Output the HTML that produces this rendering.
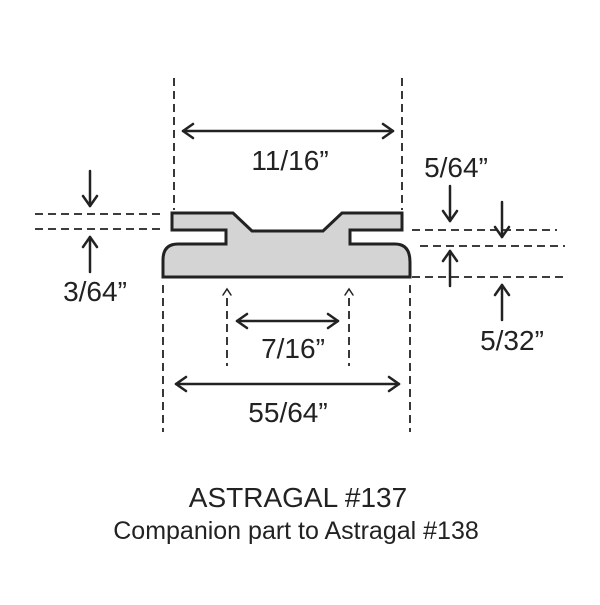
<!DOCTYPE html>
<html><head><style>body{margin:0;background:#fff}</style></head><body>
<svg width="600" height="600" viewBox="0 0 600 600" xmlns="http://www.w3.org/2000/svg" font-family="Liberation Sans, sans-serif" fill="none" stroke="#222">
<g stroke-width="1.8" stroke-dasharray="8,5">
<line x1="174" y1="78" x2="174" y2="210"/><line x1="402" y1="78" x2="402" y2="210"/>
<line x1="163" y1="285" x2="163" y2="432"/><line x1="410" y1="285" x2="410" y2="432"/>
<line x1="227" y1="298" x2="227" y2="366"/><line x1="349" y1="298" x2="349" y2="366"/>
<line x1="35" y1="214" x2="165" y2="214"/><line x1="35" y1="229" x2="165" y2="229"/>
<line x1="412" y1="230" x2="557" y2="230"/><line x1="420" y1="246" x2="565" y2="246"/>
<line x1="412" y1="277" x2="565" y2="277"/>
</g>
<path d="M172 213 L233 213 L252 231 L323 231 L342 213 L402 213 L402 230 L350 230 L350 244 L395 244 Q410 244 410 262 L410 277 L163 277 L163 260 Q163 244 178 244 L226 244 L226 230 L172 230 Z" fill="#d4d4d4" stroke="#222" stroke-width="3" stroke-linejoin="miter"/>
<g stroke-width="2.5" stroke-linecap="round" stroke-linejoin="round">
<line x1="183" y1="131" x2="393" y2="131"/><path d="M193 124 L183 131 L193 138 M383 124 L393 131 L383 138"/>
<line x1="237" y1="321" x2="338" y2="321"/><path d="M247 314 L237 321 L247 328 M328 314 L338 321 L328 328"/>
<line x1="176" y1="384" x2="399" y2="384"/><path d="M186 377 L176 384 L186 391 M389 377 L399 384 L389 391"/>
<line x1="90" y1="171" x2="90" y2="206"/><path d="M83 196 L90 206 L97 196"/>
<line x1="90" y1="272" x2="90" y2="237"/><path d="M83 247 L90 237 L97 247"/>
<line x1="450" y1="186" x2="450" y2="221"/><path d="M443 211 L450 221 L457 211"/>
<line x1="450" y1="286" x2="450" y2="251"/><path d="M443 261 L450 251 L457 261"/>
<line x1="502" y1="202" x2="502" y2="237"/><path d="M495 227 L502 237 L509 227"/>
<line x1="502" y1="320" x2="502" y2="285"/><path d="M495 295 L502 285 L509 295"/>
</g>
<g stroke-width="1.5" stroke-linecap="round"><path d="M223 295 L227 289 L231 295 M345 295 L349 289 L353 295"/></g>
<g fill="#222" stroke="none" font-size="28" text-anchor="middle">
<text x="290" y="170">11/16”</text>
<text x="293" y="358">7/16”</text>
<text x="288" y="422">55/64”</text>
<text x="95" y="301">3/64”</text>
<text x="456" y="177">5/64”</text>
<text x="512" y="350">5/32”</text>
<text x="298" y="507" font-size="28">ASTRAGAL #137</text>
<text x="296" y="539" font-size="25">Companion part to Astragal #138</text>
</g>
</svg>
</body></html>
